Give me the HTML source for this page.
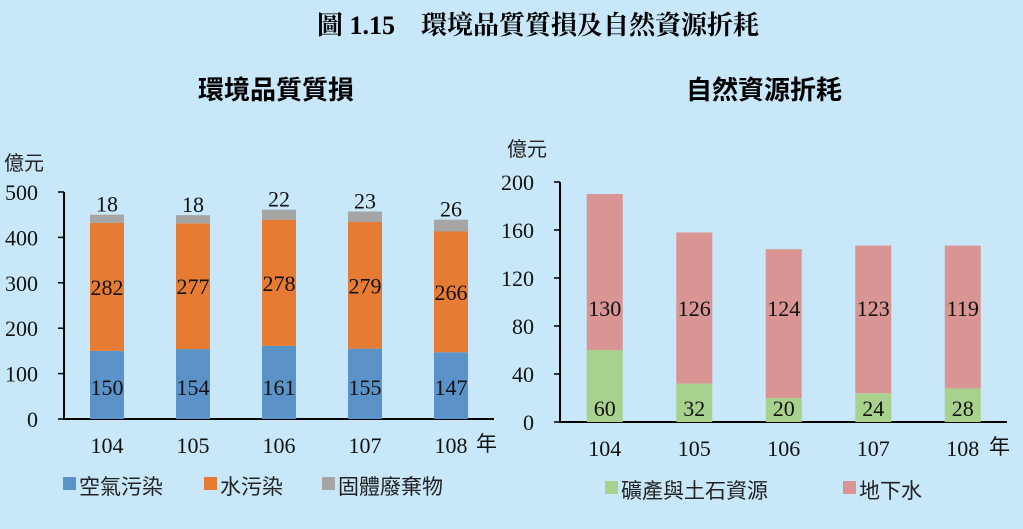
<!DOCTYPE html>
<html><head><meta charset="utf-8">
<style>
body{margin:0;background:#c8e7f8;}
svg{display:block;font-family:"Liberation Serif","Noto Serif CJK SC",serif;}
.cjk{font-family:"Liberation Sans","Noto Sans CJK TC",sans-serif;}
</style></head>
<body>
<svg id="c" width="1023" height="529" viewBox="0 0 1023 529">
<rect width="1023" height="529" fill="#c8e7f8"/>
<text x="538" y="34" text-anchor="middle" font-size="26" font-weight="bold" font-family="Liberation Serif,Noto Serif CJK TC,serif">圖 1.15　環境品質質損及自然資源折耗</text>
<text x="276" y="99" text-anchor="middle" font-size="26" class="cjk" font-weight="bold">環境品質質損</text>
<text x="764" y="99" text-anchor="middle" font-size="26" class="cjk" font-weight="bold">自然資源折耗</text>
<text x="4" y="170" font-size="20" class="cjk" fill="#222">億元</text>
<text x="507" y="156" font-size="20" class="cjk" fill="#222">億元</text>
<g id="L"></g><g id="R"></g>
<rect x="63" y="477" width="13" height="13" fill="#5b93c9"/>
<text x="79" y="494" font-size="21" class="cjk" fill="#222">空氣污染</text>
<rect x="204" y="477" width="13" height="13" fill="#e67c33"/>
<text x="220" y="494" font-size="21" class="cjk" fill="#222">水污染</text>
<rect x="322" y="477" width="13" height="13" fill="#a5a5a5"/>
<text x="338" y="494" font-size="21" class="cjk" fill="#222">固體廢棄物</text>
<rect x="605" y="481" width="13" height="13" fill="#a9d18e"/>
<text x="621" y="498" font-size="21" class="cjk" fill="#222">礦產與土石資源</text>
<rect x="843" y="481" width="13" height="13" fill="#d99594"/>
<text x="859" y="498" font-size="21" class="cjk" fill="#222">地下水</text>
</svg>
<script>
const categories=["104","105","106","107","108"];
const airValues=[150,154,161,155,147];
const waterValues=[282,277,278,279,266];
const solidValues=[18,18,22,23,26];
const leftTicks=[0,100,200,300,400,500];
const mineralValues=[60,32,20,24,28];
const groundValues=[130,126,124,123,119];
const rightTicks=[0,40,80,120,160,200];
const NS="http://www.w3.org/2000/svg";
function mk(p,tag,a,txt){const e=document.createElementNS(NS,tag);for(const k in a)e.setAttribute(k,a[k]);if(txt!==undefined)e.textContent=txt;p.appendChild(e);return e;}
function chart(g,o){
  const y=v=>o.y0-v*(o.y0-o.yTop)/o.max;
  const x=i=>o.x0+o.step*(i+0.5);
  const ax=mk(g,'path',{d:`M${o.x0},${o.yTop}V${o.y0}H${o.x1}`,stroke:'#000','stroke-width':2,fill:'none'});
  
  o.ticks.forEach(t=>{
    const l=mk(g,'line',{x1:o.x0-6,x2:o.x0,y1:y(t),y2:y(t),stroke:'#000','stroke-width':1.5});
    
    const tx=mk(g,'text',{x:o.x0-26,y:y(t)+8,'text-anchor':'end','font-size':22,fill:'#111'},t);
    
  });
  categories.forEach((c,i)=>{
    const t=mk(g,'text',{x:x(i),y:o.y0+34,'text-anchor':'middle','font-size':22,fill:'#111'},c);
    
    let base=0;
    o.series.forEach((s,si)=>{
      const v=s.vals[i];
      const r=mk(g,'rect',{x:x(i)-o.bw/2,y:y(base+v),width:o.bw,height:y(base)-y(base+v),fill:s.color});
      
      let ly;
      if(s.lab==='top')ly=y(base+v)-3;
      else if(s.lab==='low')ly=y(base)-s.off;
      else if(s.lab==='fixed')ly=o.fixedY;
      else ly=(y(base)+y(base+v))/2+8;
      const lt=mk(g,'text',{x:x(i),y:ly,'text-anchor':'middle','font-size':22,fill:'#111'},v);
      
      base+=v;
    });
  });
  const yr=mk(g,'text',{x:o.x1-18,y:o.y0+32,'font-size':21,class:'cjk',fill:'#111'},'年');
  
}
chart(document.getElementById('L'),{p:'left',x0:64,x1:494,y0:419,yTop:192,max:500,step:86,bw:34,ticks:leftTicks,
 series:[{name:'air',vals:airValues,color:'#5b93c9',lab:'low',off:24},{name:'water',vals:waterValues,color:'#e67c33',lab:'mid'},{name:'solid',vals:solidValues,color:'#a5a5a5',lab:'top'}]});
chart(document.getElementById('R'),{p:'right',x0:560,x1:1007,y0:422,yTop:182,max:200,step:89.5,bw:36,ticks:rightTicks,fixedY:316,
 series:[{name:'mineral',vals:mineralValues,color:'#a9d18e',lab:'low',off:6},{name:'groundwater',vals:groundValues,color:'#d99594',lab:'fixed'}]});
</script>
</body></html>
